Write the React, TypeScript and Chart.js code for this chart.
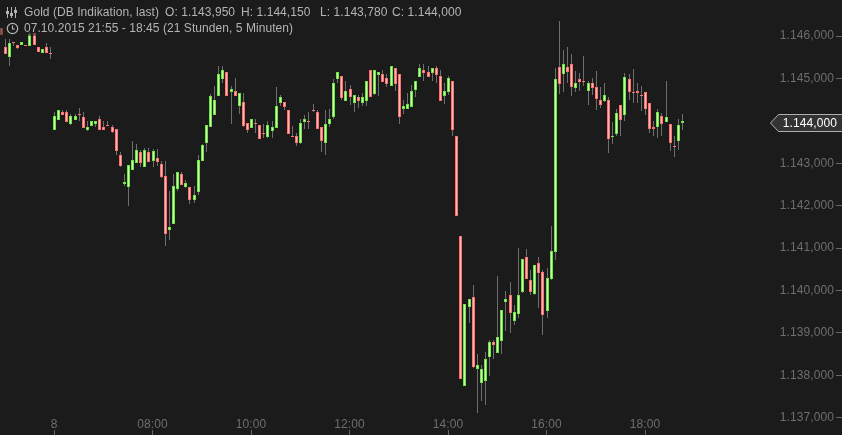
import React, { useEffect, useRef } from "react";
import { Chart, registerables } from "chart.js";

Chart.register(...registerables);

const FIRST_INDEX = -13;

const opens = [
  1146180, 1145750, 1145500, 1145870, 1145790, 1145780, 1145790, 1145770, 1146080, 1145730, 1145590, 1145730, 1145600,
  1143780, 1144020, 1144210, 1144210, 1143930, 1144020, 1144160, 1144090, 1143780, 1143880, 1143930, 1144040, 1143850, 1143900, 1143850, 1143810,
  1143190, 1142510, 1142440, 1142840, 1143010, 1143270, 1142910, 1143270, 1143050, 1143120, 1142980, 1142700, 1141430, 1141570, 1142390, 1142750,
  1142440, 1142440, 1142130, 1142320, 1143050, 1143480, 1143860, 1144140, 1144590, 1144990, 1145150, 1144680, 1144700, 1144350, 1144440, 1143950,
  1143830, 1143950, 1143900, 1143710, 1143620, 1143760, 1143830, 1144420, 1144440, 1144260, 1143640, 1143640, 1143480, 1143970, 1143990, 1144250,
  1144210, 1143850, 1143480, 1143930, 1144090, 1144990, 1145060, 1144470, 1144750, 1144420, 1144560, 1144420, 1144470, 1145200, 1144630, 1145080,
  1145100, 1145010, 1144820, 1145250, 1145100, 1144280, 1144280, 1144330, 1144730, 1145030, 1145200, 1145150, 1145130, 1145250, 1145060, 1144590,
  1144680, 1144940, 1143640, 1141280, 1137750, 1139610, 1139850, 1138150, 1137820, 1137860, 1138430, 1138780, 1138520, 1138810, 1139730, 1139890,
  1139280, 1139440, 1139960, 1140790, 1140250, 1139920, 1140650, 1140430, 1139520, 1140270, 1140910, 1145270, 1145100, 1145270, 1145340, 1144770,
  1144990, 1144940, 1144700, 1144890, 1144800, 1144490, 1144470, 1144490, 1143620, 1143690, 1144370, 1144140, 1144990, 1144670, 1144700, 1144620,
  1144680, 1144420, 1143850, 1143850, 1144110, 1143970, 1143930, 1143410, 1143520, 1143950,
];

const highs = [
  1146180, 1145930, 1145920, 1145870, 1145790, 1145870, 1145790, 1146090, 1146080, 1145730, 1145690, 1145830, 1145730,
  1144210, 1144260, 1144260, 1144260, 1144160, 1144160, 1144300, 1144210, 1144000, 1144000, 1144000, 1144110, 1144000, 1144000, 1143900, 1143810,
  1143270, 1142750, 1142960, 1143520, 1143450, 1143310, 1143360, 1143360, 1143340, 1143340, 1143050, 1143050, 1142350, 1142750, 1142790, 1142790,
  1142610, 1142440, 1142460, 1143190, 1143450, 1143900, 1144630, 1144820, 1145290, 1145290, 1145150, 1144820, 1145010, 1144660, 1144660, 1143950,
  1144040, 1144040, 1143900, 1143930, 1144000, 1144000, 1144800, 1144610, 1144440, 1144260, 1143880, 1143710, 1144040, 1144140, 1144210, 1144400,
  1144260, 1143850, 1144260, 1144280, 1144990, 1145150, 1145060, 1144940, 1144840, 1144610, 1144610, 1144660, 1144940, 1145200, 1145200, 1145150,
  1145200, 1145100, 1145290, 1145250, 1145100, 1144490, 1144660, 1144840, 1144940, 1145340, 1145340, 1145290, 1145250, 1145290, 1145200, 1144890,
  1145060, 1144940, 1143640, 1141280, 1139680, 1139800, 1140130, 1138500, 1138240, 1138550, 1138830, 1138830, 1140340, 1139540, 1139990, 1140200,
  1139660, 1141000, 1140740, 1140980, 1140480, 1140600, 1140790, 1140480, 1140530, 1141520, 1145250, 1146350, 1145670, 1145740, 1145580, 1145180,
  1145130, 1145530, 1144940, 1145010, 1145180, 1144800, 1144890, 1144560, 1143970, 1144280, 1144370, 1145130, 1145100, 1145220, 1144890, 1144820,
  1144680, 1144420, 1144000, 1144280, 1144180, 1144940, 1143930, 1143640, 1144040, 1144150,
];

const lows = [
  1146020, 1145580, 1145290, 1145760, 1145690, 1145780, 1145770, 1145770, 1145780, 1145630, 1145590, 1145610, 1145450,
  1143780, 1144020, 1144140, 1143970, 1143900, 1144020, 1144000, 1143830, 1143760, 1143880, 1143850, 1143780, 1143780, 1143880, 1143710, 1143190,
  1142910, 1142460, 1141990, 1142840, 1143010, 1142910, 1142910, 1143030, 1142910, 1142940, 1142650, 1141050, 1141190, 1141570, 1142350, 1142490,
  1142420, 1142040, 1142060, 1142250, 1143050, 1143270, 1143860, 1144140, 1144590, 1144890, 1144590, 1143930, 1144590, 1144160, 1143850, 1143710,
  1143830, 1143710, 1143570, 1143600, 1143600, 1143600, 1143830, 1144350, 1144260, 1143690, 1143620, 1143410, 1143450, 1143810, 1143810, 1144210,
  1143810, 1143270, 1143190, 1143850, 1144040, 1144890, 1144490, 1144470, 1144370, 1144210, 1144300, 1144350, 1144350, 1144560, 1144610, 1144590,
  1144920, 1144800, 1144820, 1144700, 1143930, 1144160, 1144280, 1144330, 1144560, 1145030, 1144940, 1145030, 1144940, 1144890, 1144470, 1144400,
  1144610, 1143640, 1141760, 1137910, 1137750, 1139230, 1138170, 1137110, 1137390, 1137300, 1137980, 1138380, 1138520, 1138500, 1139040, 1139000,
  1139190, 1139350, 1139940, 1140270, 1139890, 1139890, 1139590, 1138950, 1139350, 1140250, 1140720, 1144630, 1144680, 1144890, 1144590, 1144680,
  1144700, 1144820, 1144370, 1144610, 1144260, 1144300, 1144440, 1143240, 1143450, 1143640, 1143640, 1144000, 1144490, 1144420, 1144420, 1144230,
  1144140, 1143710, 1143640, 1143600, 1143640, 1143970, 1143290, 1143150, 1143310, 1143780,
];

const closes = [
  1146020, 1145580, 1145830, 1145830, 1145710, 1145870, 1145780, 1146040, 1145780, 1145630, 1145690, 1145610, 1145590,
  1144110, 1144260, 1144140, 1143970, 1144110, 1144110, 1144150, 1143830, 1143850, 1144000, 1144000, 1143780, 1143780, 1143890, 1143740, 1143290,
  1142940, 1142560, 1142960, 1143080, 1143310, 1143010, 1143310, 1143030, 1143290, 1143030, 1142680, 1141330, 1141500, 1142460, 1142790, 1142490,
  1142530, 1142130, 1142250, 1143080, 1143430, 1143900, 1144590, 1144490, 1145100, 1145200, 1144590, 1144750, 1144590, 1144660, 1143880, 1143780,
  1144040, 1143930, 1143570, 1143700, 1143900, 1143850, 1144350, 1144560, 1144330, 1143690, 1143630, 1143480, 1143950, 1144040, 1143980, 1144240,
  1143810, 1143520, 1143930, 1144040, 1144890, 1145150, 1144540, 1144700, 1144560, 1144610, 1144470, 1144560, 1144940, 1144560, 1145200, 1145150,
  1144920, 1144870, 1145290, 1144870, 1144090, 1144350, 1144400, 1144700, 1144940, 1145250, 1145130, 1145030, 1145250, 1145080, 1144470, 1144700,
  1145010, 1143780, 1141760, 1137910, 1139680, 1139800, 1138200, 1138240, 1138150, 1138380, 1138780, 1138710, 1138900, 1139540, 1139800, 1139470,
  1139490, 1139890, 1140740, 1140270, 1139960, 1140600, 1140410, 1139420, 1140290, 1140930, 1144990, 1144870, 1145340, 1145150, 1144800, 1144890,
  1144920, 1144930, 1144890, 1144770, 1144510, 1144370, 1144610, 1143570, 1143640, 1144180, 1144020, 1145030, 1144680, 1144660, 1144660, 1144610,
  1144280, 1143810, 1143810, 1144210, 1143930, 1144090, 1143480, 1143400, 1143900, 1144000,
];

const xTickIndexes = [0, 24, 48, 72, 96, 120, 144];
const xTickLabels = ["8", "08:00", "10:00", "12:00", "14:00", "16:00", "18:00"];
const yTickValues = [1137000, 1138000, 1139000, 1140000, 1141000, 1142000, 1143000, 1144000, 1145000, 1146000];
const lastPrice = 1144000;
const headerLine1 = [
  { text: "Gold (DB Indikation, last)", x: 24 },
  { text: "O: 1.143,950", x: 165 },
  { text: "H: 1.144,150", x: 241 },
  { text: "L: 1.143,780", x: 320 },
  { text: "C: 1.144,000", x: 392 },
];
const headerLine2 = "07.10.2015 21:55 - 18:45 (21 Stunden, 5 Minuten)";

const GREEN_FILL = "#c8ffb0";
const GREEN_EDGE = "#6fe63f";
const RED_FILL = "#ffb8b4";
const RED_EDGE = "#ff7070";
const WICK = "#6e6e6e";
const BG = "#1b1b1b";
const FONT = '"Liberation Sans", Arial, sans-serif';

const fmt = (v: number) => {
  const s = String(Math.round(v));
  return `${s.slice(0, 1)}.${s.slice(1, 4)},${s.slice(4)}`;
};

const dropPadding = (s: any) => {
  s.paddingTop = 0;
  s.paddingBottom = 0;
  s.paddingLeft = 0;
  s.paddingRight = 0;
};

const decor = {
  id: "decor",
  beforeDraw(chart: any) {
    const { ctx, width, height } = chart;
    ctx.letterSpacing = "0.1px";
    ctx.save();
    ctx.fillStyle = BG;
    ctx.fillRect(0, 0, width, height);
    ctx.restore();
  },
  // snap the bars the scales placed onto whole device pixels, so they stay crisp
  afterDatasetsUpdate(chart: any) {
    chart.getSortedVisibleDatasetMetas().forEach((meta: any) => {
      meta.data.forEach((el: any) => {
        el.x = Math.round(el.x) + 0.5;
        const top = Math.round(Math.min(el.y, el.base));
        const bottom = Math.round(Math.max(el.y, el.base));
        el.y = top;
        el.base = Math.max(bottom, top + 1);
      });
    });
  },
  afterDraw(chart: any) {
    const { ctx } = chart;
    const y = Math.round(chart.scales.y.getPixelForValue(lastPrice)) + 2;
    ctx.save();
    // last price flag
    ctx.beginPath();
    ctx.moveTo(842.5, y - 8.5);
    ctx.lineTo(778.5, y - 8.5);
    ctx.lineTo(770.5, y);
    ctx.lineTo(778.5, y + 8.5);
    ctx.lineTo(842.5, y + 8.5);
    ctx.closePath();
    ctx.fillStyle = "#333333";
    ctx.fill();
    ctx.strokeStyle = "#b0b0b0";
    ctx.lineWidth = 1;
    ctx.stroke();
    ctx.font = `12px ${FONT}`;
    ctx.fillStyle = "#ffffff";
    ctx.textAlign = "right";
    ctx.textBaseline = "middle";
    ctx.fillText(fmt(lastPrice), 837, y + 0.5);

    // header band dims what runs beneath it
    ctx.fillStyle = "rgba(27,27,27,0.55)";
    ctx.fillRect(0, 0, 470, 36);

    // header text
    ctx.textAlign = "left";
    ctx.fillStyle = "#b4b4b4";
    ctx.letterSpacing = "0.06px";
    headerLine1.forEach((p) => ctx.fillText(p.text, p.x, 13));
    ctx.fillText(headerLine2, 24, 29);
    ctx.letterSpacing = "0px";

    // indicator icon
    ctx.strokeStyle = "#b4b4b4";
    ctx.fillStyle = "#b4b4b4";
    [7.5, 11.5, 15.5].forEach((x, i) => {
      ctx.beginPath();
      ctx.moveTo(x, 7);
      ctx.lineTo(x, 18);
      ctx.stroke();
      ctx.fillRect(x - 1.5, [11, 13, 10][i], 3, 3);
    });
    // clock icon
    ctx.lineWidth = 1.2;
    ctx.beginPath();
    ctx.arc(12.5, 28.5, 5.2, 0, Math.PI * 2);
    ctx.stroke();
    ctx.beginPath();
    ctx.moveTo(12.5, 25.5);
    ctx.lineTo(12.5, 29);
    ctx.lineTo(15, 29);
    ctx.stroke();
    ctx.restore();
  },
};

export default function App() {
  const ref = useRef<HTMLCanvasElement>(null);

  useEffect(() => {
    document.body.style.margin = "0";
    document.body.style.background = BG;
    const isUp = (i: number) => closes[i] > opens[i];
    const chart = new Chart(ref.current!, {
      type: "bar",
      data: {
        datasets: [
          {
            label: "Body",
            order: 1,
            grouped: false,
            barThickness: 3,
            inflateAmount: 0,
            borderWidth: 1,
            borderSkipped: false,
            data: opens.map((o, i) => ({ x: i + FIRST_INDEX, y: [o, closes[i]] })),
            backgroundColor: (c: any) => (isUp(c.dataIndex) ? GREEN_FILL : RED_FILL),
            borderColor: (c: any) => (isUp(c.dataIndex) ? GREEN_EDGE : RED_EDGE),
          },
          {
            label: "Range",
            order: 2,
            grouped: false,
            barThickness: 1,
            inflateAmount: 0,
            borderWidth: 0,
            backgroundColor: WICK,
            data: lows.map((l, i) => ({ x: i + FIRST_INDEX, y: [l, highs[i]] })),
          },
        ] as any,
      },
      options: {
        animation: false,
        responsive: false,
        devicePixelRatio: 1,
        layout: { padding: 0, autoPadding: false },
        plugins: { legend: { display: false }, tooltip: { enabled: false } },
        scales: {
          x: {
            type: "linear",
            position: "bottom",
            offset: false,
            min: -13.17,
            max: 192,
            afterBuildTicks: (s: any) => {
              s.ticks = xTickIndexes.map((value) => ({ value }));
            },
            afterFit: (s: any) => {
              s.height = 0;
              dropPadding(s);
            },
            grid: { offset: false, drawOnChartArea: false, tickLength: -5, tickColor: "#666666" },
            border: { display: false },
            ticks: {
              mirror: true,
              padding: 3,
              color: "#6e6e6e",
              font: { family: FONT, size: 12 },
              autoSkip: false,
              maxRotation: 0,
              callback: (v: any) => xTickLabels[xTickIndexes.indexOf(v)] ?? "",
            },
          },
          y: {
            type: "linear",
            position: "right",
            min: 1136591,
            max: 1146849,
            afterBuildTicks: (s: any) => {
              s.ticks = yTickValues.map((value) => ({ value }));
            },
            afterFit: (s: any) => {
              s.width = 0;
              dropPadding(s);
            },
            grid: { drawOnChartArea: false, tickLength: -6, tickColor: "#666666" },
            border: { display: false },
            ticks: {
              mirror: true,
              padding: -8,
              color: "#6e6e6e",
              font: { family: FONT, size: 12 },
              callback: (v: any) => fmt(v),
            },
          },
        },
      } as any,
      plugins: [decor],
    });
    return () => chart.destroy();
  }, []);

  return <canvas ref={ref} width={842} height={435} style={{ display: "block" }} />;
}
